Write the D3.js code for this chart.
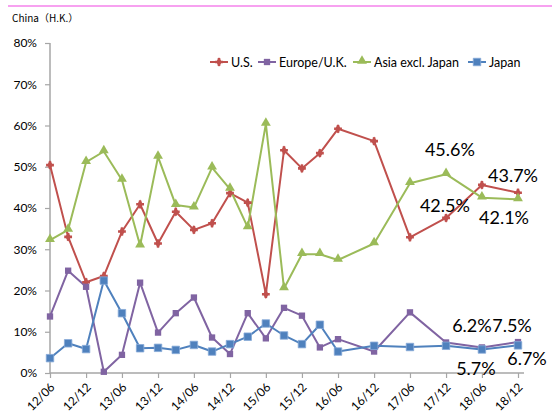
<!DOCTYPE html>
<html><head><meta charset="utf-8">
<script src="https://cdn.jsdelivr.net/npm/d3@7"></script>
<style>
html,body{margin:0;padding:0;background:#fff;}
svg{display:block;font-family:Lato,"Noto Sans",sans-serif;}
</style></head>
<body>
<svg id="chart" width="552" height="415"></svg>
<script>
// ---- data ----
const periods = ["2012-06","2012-09","2012-12","2013-03","2013-06","2013-09","2013-12","2014-03","2014-06","2014-09","2014-12","2015-03","2015-06","2015-09","2015-12","2016-03","2016-06","2016-12","2017-06","2017-12","2018-06","2018-12"];
const seriesNames = ["U.S.","Europe/U.K.","Asia excl. Japan","Japan"];
const usValues     = [50.4,33.0,22.0,23.5,34.3,40.9,31.4,39.1,34.7,36.3,43.6,41.3,19.1,54.0,49.6,53.3,59.2,56.2,32.9,37.6,45.6,43.7];
const europeValues = [13.7,24.8,20.9,0.3,4.4,21.9,9.8,14.5,18.3,8.6,4.6,14.5,8.4,15.8,13.9,6.2,8.2,5.2,14.7,7.4,6.2,7.5];
const asiaValues   = [32.2,34.7,51.1,53.7,46.8,30.9,52.4,40.7,40.1,49.8,44.6,35.3,60.4,20.5,28.8,28.8,27.4,31.4,46.0,48.2,42.5,42.1];
const japanValues  = [3.6,7.2,5.8,22.4,14.5,6.0,6.1,5.6,6.8,5.2,7.0,8.8,12.0,9.1,7.0,11.7,5.2,6.6,6.3,6.6,5.7,6.7];
const yTicks = [0,10,20,30,40,50,60,70,80];
const xTickLabels = ["12/06","12/12","13/06","13/12","14/06","14/12","15/06","15/12","16/06","16/12","17/06","17/12","18/06","18/12"];
const titleText = "China（H.K.）";

// ---- styles ----
const colors = ["#C0504D","#8064A2","#9BBB59","#4F81BD"];
// label offsets for the last two points of each series (pixels)
const labelOffsets = [
  [[-32,-29],[-5,-11]],
  [[-10,-15],[-6,-10]],
  [[-37,14],[-14,25]],
  [[-6,26],[9,20]]
];

const parse = d3.timeParse("%Y-%m");
const dates = periods.map(parse);
const allValues = [usValues,europeValues,asiaValues,japanValues];
const series = seriesNames.map((name,i)=>({name, color:colors[i], idx:i,
  points: dates.map((d,j)=>({date:d, value:allValues[i][j]}))}));

const svg = d3.select("#chart");
const x0 = 50, x1 = 518, yBottom = 373, yTop = 43;
const x = d3.scaleTime().domain([parse("2012-06"), parse("2018-12")]).range([x0, x1]);
const y = d3.scaleLinear().domain([0,80]).range([yBottom, yTop]);

// top pink rule
svg.append("line").attr("x1",8).attr("x2",552).attr("y1",6).attr("y2",6)
  .attr("stroke","#F7A1F0").attr("stroke-width",2);

// title
svg.append("text").attr("x",12).attr("y",22)
  .attr("font-family","'Noto Sans CJK JP','Noto Sans',sans-serif")
  .attr("font-size",10).attr("fill","#000").text(titleText);

const axisColor = "#A6A6A6";

// y axis
const yAxis = svg.append("g").attr("transform",`translate(${x0},0)`)
  .call(d3.axisLeft(y).tickValues(yTicks).tickFormat(d=>d+"%").tickSize(5).tickPadding(8));
yAxis.select(".domain").attr("stroke",axisColor).attr("stroke-width",1.5).attr("d",`M0,${yBottom}V${yTop}`);
yAxis.selectAll(".tick line").attr("stroke",axisColor).attr("stroke-width",1.2);
yAxis.selectAll(".tick text").attr("font-size",12).attr("fill","#000").attr("font-family","Lato,sans-serif");

// x axis
const tickDates = xTickLabels.map(s=>d3.timeParse("%y/%m")(s));
const xAxis = svg.append("g").attr("transform",`translate(0,${yBottom})`)
  .call(d3.axisBottom(x).tickValues(tickDates).tickFormat((d,i)=>xTickLabels[i]).tickSize(5));
xAxis.select(".domain").attr("stroke",axisColor).attr("stroke-width",1.5).attr("d",`M${x0},0H524`);
xAxis.selectAll(".tick line").attr("stroke",axisColor).attr("stroke-width",1.2);
xAxis.selectAll(".tick text")
  .attr("font-size",12).attr("fill","#000").attr("font-family","Lato,sans-serif")
  .attr("text-anchor","end").attr("dy",null).attr("y",null)
  .attr("transform","translate(5,15) rotate(-45)");

// lines
const line = d3.line().x(d=>x(d.date)).y(d=>y(d.value));
const g = svg.append("g");
series.forEach(s=>{
  g.append("path").datum(s.points).attr("d",line).attr("fill","none")
    .attr("stroke",s.color).attr("stroke-width",2).attr("stroke-linejoin","round");
});

function drawMarker(sel, idx, color){
  if(idx===0){
    sel.append("path").attr("d",d3.symbol(d3.symbolDiamond,26)()).attr("fill",color);
    sel.append("path").attr("d",d3.symbol(d3.symbolCross,34)()).attr("fill",color);
  } else if(idx===1){
    sel.append("path").attr("d",d3.symbol(d3.symbolSquare,40)()).attr("fill",color);
  } else if(idx===2){
    sel.append("path").attr("d",d3.symbol(d3.symbolTriangle,42)()).attr("fill",color).attr("transform","translate(0,-1)");
  } else {
    sel.append("path").attr("d",d3.symbol(d3.symbolSquare,56)()).attr("fill",color)
      .attr("stroke","#86A9D8").attr("stroke-width",0.8);
  }
}
series.forEach(s=>{
  s.points.forEach(p=>{
    const m = g.append("g").attr("transform",`translate(${x(p.date)},${y(p.value)})`);
    drawMarker(m, s.idx, s.color);
  });
});

// data labels for last two points
series.forEach((s,i)=>{
  const n = s.points.length;
  [n-2,n-1].forEach((j,k)=>{
    const p = s.points[j];
    const off = labelOffsets[i][k];
    svg.append("text").attr("x",x(p.date)+off[0]).attr("y",y(p.value)+off[1])
      .attr("text-anchor","middle").attr("font-size",18).attr("fill","#000")
      .attr("font-family","Lato,sans-serif")
      .text(p.value.toFixed(1)+"%");
  });
});

// legend
const legendX = [210,258,353,468];
const legendY = 62;
series.forEach((s,i)=>{
  const lg = svg.append("g").attr("transform",`translate(${legendX[i]},${legendY})`);
  lg.append("line").attr("x1",0).attr("x2",18).attr("stroke",s.color).attr("stroke-width",2);
  const m = lg.append("g").attr("transform","translate(9,0)");
  drawMarker(m, s.idx, s.color);
  lg.append("text").attr("x",21).attr("y",4.5).attr("font-size",12.5).attr("fill","#000")
    .attr("font-family","Lato,sans-serif").text(s.name);
});
</script>
</body></html>
